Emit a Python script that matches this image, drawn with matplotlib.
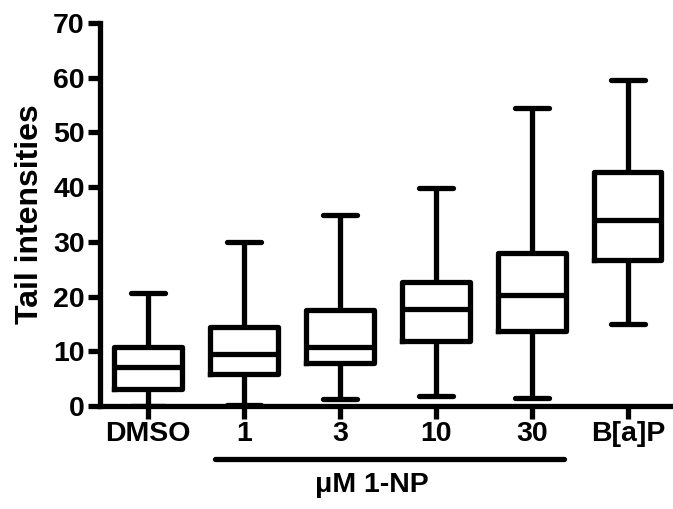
import numpy as np
import matplotlib.pyplot as plt

plt.rcParams['font.family'] = ['Liberation Sans', 'DejaVu Sans']
plt.rcParams['font.weight'] = 'bold'

# dane
grupy = ['DMSO', '1', '3', '10', '30', 'B[a]P']
dolny_wasik = [0.0, 0.2, 1.3, 1.8, 1.5, 15.0]
q1 = [3.1, 5.9, 7.9, 11.9, 13.7, 26.7]
mediana = [7.1, 9.5, 10.8, 17.7, 20.2, 34.0]
q3 = [10.7, 14.5, 17.5, 22.7, 27.9, 42.7]
gorny_wasik = [20.6, 30.0, 34.9, 39.9, 54.4, 59.5]

staty = []
for i in range(len(grupy)):
    staty.append({'whislo': dolny_wasik[i], 'q1': q1[i], 'med': mediana[i],
                  'q3': q3[i], 'whishi': gorny_wasik[i], 'fliers': []})

fig = plt.figure(figsize=(6.73, 5.09), dpi=100)
ax = fig.add_axes([0.1486, 0.2024, 0.8514, 0.7524])

lw = 3.8
pozycje = np.arange(len(grupy))
ax.bxp(staty, positions=pozycje, widths=0.7, showfliers=False,
       boxprops=dict(color='black', linewidth=lw),
       medianprops=dict(color='black', linewidth=lw),
       whiskerprops=dict(color='black', linewidth=lw, solid_capstyle='butt'),
       capprops=dict(color='black', linewidth=lw, solid_capstyle='round'),
       capwidths=0.35)

ax.set_xlim(-0.5, 5.47)
ax.set_ylim(0, 70)
ax.set_yticks(np.arange(0, 71, 10))
ax.set_xticks(pozycje)
ax.set_xticklabels(grupy)

ax.spines['top'].set_visible(False)
ax.spines['right'].set_visible(False)
ax.spines['left'].set_linewidth(lw)
ax.spines['bottom'].set_linewidth(lw)
ax.tick_params(axis='both', width=lw, length=9, labelsize=20.5, pad=2)

ax.set_ylabel('Tail intensities', fontsize=23, fontweight='bold', labelpad=6)

# linia pod stezeniami 1-NP
ax.plot([0.7, 4.33], [-9.6, -9.6], color='black', linewidth=lw,
        solid_capstyle='round', clip_on=False)
ax.text(2.33, -14.4, '\u03bcM 1-NP', ha='center', va='center',
        fontsize=20.5, fontweight='bold')

plt.savefig('out.png', dpi=100)
